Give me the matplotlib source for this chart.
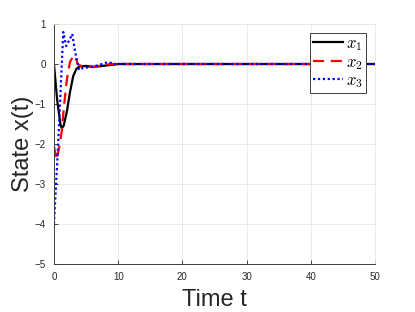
import matplotlib
matplotlib.use('Agg')
import matplotlib.pyplot as plt

plt.rcParams['font.family'] = ['Liberation Sans', 'DejaVu Sans']
plt.rcParams['mathtext.fontset'] = 'cm'

t1 = [0, 0.5, 1, 1.2, 1.5, 2, 2.5, 3, 3.5, 4, 5, 6, 7, 8, 9, 10, 50]
x1 = [0, -0.9, -1.5, -1.6, -1.55, -1.2, -0.7, -0.3, -0.12, -0.06, -0.05, -0.07, -0.06, -0.04, -0.02, 0, 0]

t2 = [0, 0.4, 0.8, 1.2, 1.6, 2, 2.5, 3, 3.3, 3.7, 4.2, 5, 6, 7, 8, 9, 10, 50]
x2 = [-2.05, -2.4, -2.1, -1.7, -1.0, -0.4, 0.05, 0.2, 0.2, 0.0, -0.05, -0.05, -0.08, -0.05, -0.02, 0, 0, 0]

t3 = [0, 0.5, 1, 1.45, 1.9, 2.4, 2.85, 3.3, 3.9, 4.5, 5.5, 6.5, 7.5, 8.4, 9.5, 10, 50]
x3 = [-4, -2.5, -0.8, 0.8, 0.45, 0.6, 0.75, 0.3, -0.15, -0.1, -0.08, -0.05, 0.0, 0.05, 0.0, 0, 0]

xticks = [0, 10, 20, 30, 40, 50]
yticks = [-5, -4, -3, -2, -1, 0, 1]

fig = plt.figure(figsize=(4.15, 3.12), dpi=100)
ax = fig.add_axes([0.130, 0.154, 0.774, 0.769])
ax.plot(t1, x1, color='black', lw=1.6, label='$x_1$')
ax.plot(t2, x2, color='red', lw=1.6, ls=(0, (5, 3)), label='$x_2$')
ax.plot(t3, x3, color='blue', lw=1.6, ls=(0, (1, 1.2)), label='$x_3$')

ax.set_xlim(0, 50)
ax.set_ylim(-5, 1)
ax.set_xticks(xticks)
ax.set_yticks(yticks)
ax.grid(True, color='#e6e6e6', lw=0.6)
ax.set_axisbelow(True)
ax.tick_params(direction='in', labelsize=7, length=3, colors='#262626', width=0.6, pad=6)
for s in ['left', 'bottom']:
    ax.spines[s].set_color('#404040')
    ax.spines[s].set_linewidth(0.7)
for s in ['top', 'right']:
    ax.spines[s].set_color('#e6e6e6')
    ax.spines[s].set_linewidth(0.6)

ax.set_xlabel('Time t', fontsize=17, color='#262626', labelpad=5)
ax.set_ylabel('State x(t)', fontsize=17, color='#262626', labelpad=0)

leg = ax.legend(loc='upper right', bbox_to_anchor=(0.973, 0.963), fontsize=12,
                fancybox=False, framealpha=1, edgecolor='#404040',
                handlelength=1.8, handletextpad=0.2, borderpad=0.2, labelspacing=0.1,
                borderaxespad=0)
leg.get_frame().set_linewidth(0.7)

fig.savefig('out.png', dpi=100)
